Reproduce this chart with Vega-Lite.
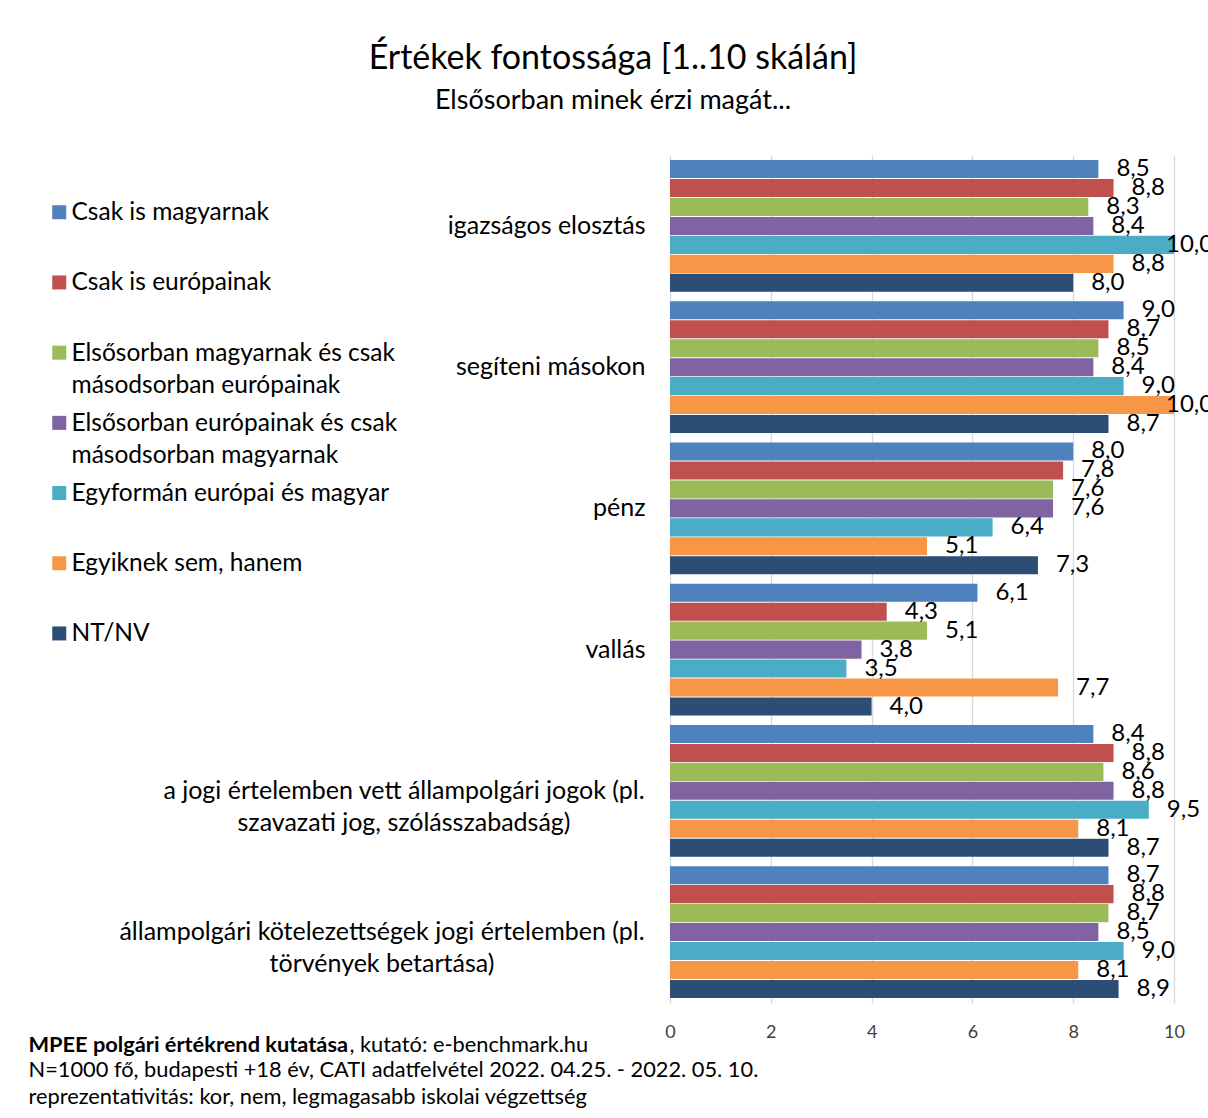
{
  "$schema": "https://vega.github.io/schema/vega-lite/v6.json",
  "width": 504,
  "height": 848,
  "autosize": {"type": "none"},
  "padding": {"left": 670, "top": 155, "right": 34, "bottom": 115},
  "background": "white",
  "config": {
    "font": "Lato",
    "locale": {"number": {"decimal": ",", "thousands": " ", "grouping": [3], "currency": ["", ""]}},
    "view": {"stroke": null},
    "legend": {"gridAlign": "all"}
  },
  "title": {
    "text": "Értékek fontossága [1..10 skálán]",
    "subtitle": "Elsősorban minek érzi magát...",
    "anchor": "middle",
    "frame": "group",
    "dx": -309,
    "fontSize": 34,
    "fontWeight": "normal",
    "subtitleFontSize": 27,
    "color": "black",
    "subtitleColor": "black",
    "offset": 41,
    "subtitlePadding": 12
  },
  "data": {
    "values": [
      {"kategoria": "igazságos elosztás", "csoport": "Csak is magyarnak", "ertek": 8.5},
      {"kategoria": "igazságos elosztás", "csoport": "Csak is európainak", "ertek": 8.8},
      {"kategoria": "igazságos elosztás", "csoport": "Elsősorban magyarnak és csak másodsorban európainak", "ertek": 8.3},
      {"kategoria": "igazságos elosztás", "csoport": "Elsősorban európainak és csak másodsorban magyarnak", "ertek": 8.4},
      {"kategoria": "igazságos elosztás", "csoport": "Egyformán európai és magyar", "ertek": 10.0},
      {"kategoria": "igazságos elosztás", "csoport": "Egyiknek sem, hanem", "ertek": 8.8},
      {"kategoria": "igazságos elosztás", "csoport": "NT/NV", "ertek": 8.0},
      {"kategoria": "segíteni másokon", "csoport": "Csak is magyarnak", "ertek": 9.0},
      {"kategoria": "segíteni másokon", "csoport": "Csak is európainak", "ertek": 8.7},
      {"kategoria": "segíteni másokon", "csoport": "Elsősorban magyarnak és csak másodsorban európainak", "ertek": 8.5},
      {"kategoria": "segíteni másokon", "csoport": "Elsősorban európainak és csak másodsorban magyarnak", "ertek": 8.4},
      {"kategoria": "segíteni másokon", "csoport": "Egyformán európai és magyar", "ertek": 9.0},
      {"kategoria": "segíteni másokon", "csoport": "Egyiknek sem, hanem", "ertek": 10.0},
      {"kategoria": "segíteni másokon", "csoport": "NT/NV", "ertek": 8.7},
      {"kategoria": "pénz", "csoport": "Csak is magyarnak", "ertek": 8.0},
      {"kategoria": "pénz", "csoport": "Csak is európainak", "ertek": 7.8},
      {"kategoria": "pénz", "csoport": "Elsősorban magyarnak és csak másodsorban európainak", "ertek": 7.6},
      {"kategoria": "pénz", "csoport": "Elsősorban európainak és csak másodsorban magyarnak", "ertek": 7.6},
      {"kategoria": "pénz", "csoport": "Egyformán európai és magyar", "ertek": 6.4},
      {"kategoria": "pénz", "csoport": "Egyiknek sem, hanem", "ertek": 5.1},
      {"kategoria": "pénz", "csoport": "NT/NV", "ertek": 7.3},
      {"kategoria": "vallás", "csoport": "Csak is magyarnak", "ertek": 6.1},
      {"kategoria": "vallás", "csoport": "Csak is európainak", "ertek": 4.3},
      {"kategoria": "vallás", "csoport": "Elsősorban magyarnak és csak másodsorban európainak", "ertek": 5.1},
      {"kategoria": "vallás", "csoport": "Elsősorban európainak és csak másodsorban magyarnak", "ertek": 3.8},
      {"kategoria": "vallás", "csoport": "Egyformán európai és magyar", "ertek": 3.5},
      {"kategoria": "vallás", "csoport": "Egyiknek sem, hanem", "ertek": 7.7},
      {"kategoria": "vallás", "csoport": "NT/NV", "ertek": 4.0},
      {"kategoria": "a jogi értelemben vett állampolgári jogok (pl. szavazati jog, szólásszabadság)", "csoport": "Csak is magyarnak", "ertek": 8.4},
      {"kategoria": "a jogi értelemben vett állampolgári jogok (pl. szavazati jog, szólásszabadság)", "csoport": "Csak is európainak", "ertek": 8.8},
      {"kategoria": "a jogi értelemben vett állampolgári jogok (pl. szavazati jog, szólásszabadság)", "csoport": "Elsősorban magyarnak és csak másodsorban európainak", "ertek": 8.6},
      {"kategoria": "a jogi értelemben vett állampolgári jogok (pl. szavazati jog, szólásszabadság)", "csoport": "Elsősorban európainak és csak másodsorban magyarnak", "ertek": 8.8},
      {"kategoria": "a jogi értelemben vett állampolgári jogok (pl. szavazati jog, szólásszabadság)", "csoport": "Egyformán európai és magyar", "ertek": 9.5},
      {"kategoria": "a jogi értelemben vett állampolgári jogok (pl. szavazati jog, szólásszabadság)", "csoport": "Egyiknek sem, hanem", "ertek": 8.1},
      {"kategoria": "a jogi értelemben vett állampolgári jogok (pl. szavazati jog, szólásszabadság)", "csoport": "NT/NV", "ertek": 8.7},
      {"kategoria": "állampolgári kötelezettségek jogi értelemben (pl. törvények betartása)", "csoport": "Csak is magyarnak", "ertek": 8.7},
      {"kategoria": "állampolgári kötelezettségek jogi értelemben (pl. törvények betartása)", "csoport": "Csak is európainak", "ertek": 8.8},
      {"kategoria": "állampolgári kötelezettségek jogi értelemben (pl. törvények betartása)", "csoport": "Elsősorban magyarnak és csak másodsorban európainak", "ertek": 8.7},
      {"kategoria": "állampolgári kötelezettségek jogi értelemben (pl. törvények betartása)", "csoport": "Elsősorban európainak és csak másodsorban magyarnak", "ertek": 8.5},
      {"kategoria": "állampolgári kötelezettségek jogi értelemben (pl. törvények betartása)", "csoport": "Egyformán európai és magyar", "ertek": 9.0},
      {"kategoria": "állampolgári kötelezettségek jogi értelemben (pl. törvények betartása)", "csoport": "Egyiknek sem, hanem", "ertek": 8.1},
      {"kategoria": "állampolgári kötelezettségek jogi értelemben (pl. törvények betartása)", "csoport": "NT/NV", "ertek": 8.9}
    ]
  },
  "encoding": {
    "y": {
      "field": "kategoria",
      "type": "nominal",
      "sort": null,
      "scale": {"paddingInner": 0.066, "paddingOuter": 0.035},
      "axis": {
        "title": ["N=1000 fő, budapesti +18 év, CATI adatfelvétel 2022. 04.25. - 2022. 05. 10.", "reprezentativitás: kor, nem, legmagasabb iskolai végzettség"],
        "titleAngle": 0,
        "titleX": -642,
        "titleY": 921,
        "titleAlign": "left",
        "titleBaseline": "alphabetic",
        "titleFontSize": 21.8,
        "titleFontWeight": "normal",
        "titleLineHeight": 27,
        "titleColor": "black",
        "labelFontSize": 25,
        "labelColor": "black",
        "labelLimit": 600,
        "labelLineHeight": 32,
        "ticks": false,
        "domain": false,
        "labelExpr": "indexof(datum.label, '(pl.') > 0 ? [substring(datum.label, 0, indexof(datum.label, '(pl.') + 4), substring(datum.label, indexof(datum.label, '(pl.') + 5)] : datum.label",
        "labelAlign": {"condition": {"test": "indexof(datum.value, '(pl.') > 0", "value": "center"}, "value": "right"},
        "labelPadding": {"condition": [
          {"test": "indexof(datum.value, 'a jogi') == 0", "value": 266.5},
          {"test": "indexof(datum.value, 'kötelezettségek') > 0", "value": 288.5}
        ], "value": 25}
      }
    },
    "yOffset": {
      "field": "csoport",
      "type": "nominal",
      "sort": null,
      "scale": {"paddingInner": 0.05}
    }
  },
  "layer": [
    {
      "mark": {"type": "bar"},
      "encoding": {
        "x": {
          "field": "ertek",
          "type": "quantitative",
          "scale": {"domain": [0, 10]},
          "axis": {
            "values": [0, 2, 4, 6, 8, 10],
            "grid": true,
            "gridColor": "#d9d9d9",
            "gridWidth": 1.3,
            "ticks": false,
            "domain": false,
            "labelFontSize": 18,
            "labelColor": "#404040",
            "labelPadding": 20,
            "labelFlush": false,
            "title": "MPEE polgári értékrend kutatása",
            "titleFontWeight": "bold",
            "titleFontSize": 21.8,
            "titleColor": "black",
            "titleX": -642,
            "titleY": 48,
            "titleAlign": "left",
            "titleBaseline": "alphabetic"
          }
        },
        "color": {
          "field": "csoport",
          "type": "nominal",
          "sort": null,
          "scale": {
            "domain": ["Csak is magyarnak", "Csak is európainak", "Elsősorban magyarnak és csak másodsorban európainak", "Elsősorban európainak és csak másodsorban magyarnak", "Egyformán európai és magyar", "Egyiknek sem, hanem", "NT/NV"],
            "range": ["#4F81BD", "#C0504D", "#9BBB59", "#8064A2", "#4BACC6", "#F79646", "#2C4D75"]
          },
          "legend": {
            "orient": "none",
            "legendX": -623,
            "legendY": 45,
            "direction": "vertical",
            "title": null,
            "symbolType": "square",
            "symbolSize": 196,
            "symbolStrokeWidth": 0,
            "labelFontSize": 24.5,
            "labelColor": "black",
            "labelLimit": 500,
            "labelOffset": 0,
            "rowPadding": 13.2,
            "padding": 0,
            "labelBaseline": "alphabetic",
            "labelExpr": "indexof(datum.label, 'csak m') > 0 ? [substring(datum.label, 0, indexof(datum.label, 'csak m') + 4), substring(datum.label, indexof(datum.label, 'csak m') + 5)] : datum.label",
            "encode": {"labels": {"update": {"lineHeight": {"value": 32}, "dy": {"value": 8}}}}
          }
        }
      }
    },
    {
      "mark": {"type": "text", "align": "left", "baseline": "middle", "dx": {"expr": "datum.ertek >= 10 ? -8 : 18"}, "fontSize": 24, "color": "black"},
      "encoding": {
        "x": {
          "field": "ertek",
          "type": "quantitative",
          "scale": {"domain": [0, 10]},
          "axis": {
            "orient": "top",
            "labels": false,
            "ticks": false,
            "domain": false,
            "grid": false,
            "title": ", kutató: e-benchmark.hu",
            "titleFontWeight": "normal",
            "titleFontSize": 21.8,
            "titleColor": "black",
            "titleX": -321,
            "titleY": 896,
            "titleAlign": "left",
            "titleBaseline": "alphabetic"
          }
        },
        "text": {"field": "ertek", "type": "quantitative", "format": ".1f"}
      }
    }
  ],
  "resolve": {"scale": {"x": "independent"}, "axis": {"x": "independent"}}
}
